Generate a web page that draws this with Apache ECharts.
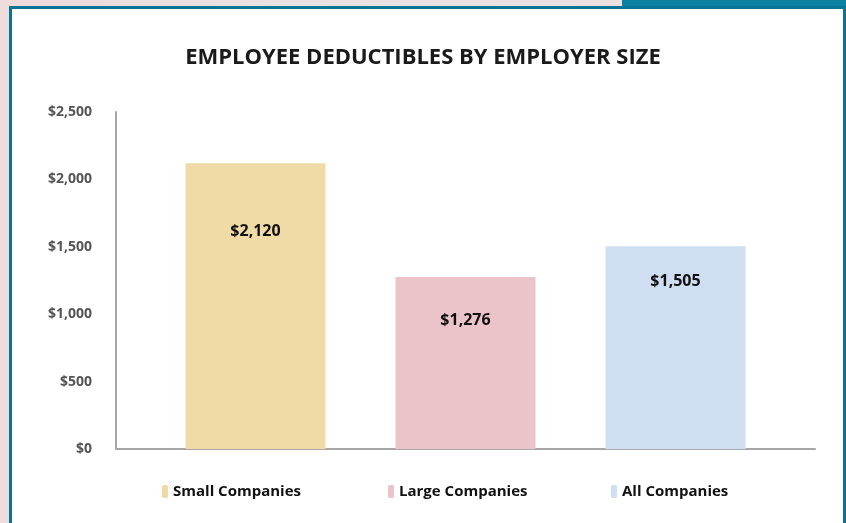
<!DOCTYPE html>
<html>
<head>
<meta charset="utf-8">
<script src="https://cdn.jsdelivr.net/npm/echarts@6/dist/echarts.min.js"></script>
<style>
html,body{margin:0;padding:0;width:846px;height:523px;overflow:hidden;}
body{background:linear-gradient(90deg,#eddcdb 0%,#e9e2e2 40%,#efdede 100%);position:relative;}
#topblock{position:absolute;left:622px;top:0;width:224px;height:8px;background:#0a80a2;}
#frame{position:absolute;left:9px;top:6px;width:831px;height:517px;border-left:3px solid #0b7394;border-top:3px solid #0b7394;border-right:3px solid #0b7394;background:#fff;}
#chart{position:absolute;left:-12px;top:-9px;width:846px;height:523px;}
</style>
</head>
<body>
<div id="topblock"></div>
<div id="frame"><div id="chart"></div></div>
<script>
const title = 'EMPLOYEE DEDUCTIBLES BY EMPLOYER SIZE';
const seriesNames = ['Small Companies', 'Large Companies', 'All Companies'];
const deductibles = [2120, 1276, 1505];
const yTicks = [0, 500, 1000, 1500, 2000, 2500];
const colors = ['#f0dba6', '#ebc4ca', '#cfdff1'];
const labelOffsets = [60, 35, 27];
const legendLefts = [157, 383, 606];

const fmt = v => '$' + v.toLocaleString('en-US');
const font = '"Open Sans", "Noto Sans", sans-serif';

const chart = echarts.init(document.getElementById('chart'));
chart.setOption({
  animation: false,
  title: {
    text: title, left: 'center', top: 42,
    textStyle: {fontFamily: font, fontWeight: 'bold', fontSize: 22, color: '#1a1a1a'}
  },
  legend: seriesNames.map((n, i) => ({
    data: [n], left: legendLefts[i], top: 479, itemWidth: 6, itemHeight: 13, itemGap: 5,
    textStyle: {fontFamily: font, fontWeight: 'bold', fontSize: 15, color: '#111'}
  })),
  grid: {left: 116, right: 31, top: 112, bottom: 74},
  xAxis: {
    type: 'category', data: [''],
    axisLine: {lineStyle: {color: '#a6a6a6', width: 2}},
    axisTick: {show: false}, axisLabel: {show: false}
  },
  yAxis: {
    type: 'value', min: yTicks[0], max: yTicks[yTicks.length - 1], interval: 500,
    axisLine: {show: true, lineStyle: {color: '#a6a6a6', width: 2}},
    axisTick: {show: false}, splitLine: {show: false},
    axisLabel: {formatter: v => fmt(v), fontFamily: font, fontWeight: 'bold', fontSize: 14, color: '#555', margin: 24}
  },
  series: seriesNames.map((n, i) => ({
    name: n, type: 'bar', data: [deductibles[i]], barWidth: 140, barGap: '50%',
    itemStyle: {color: colors[i]},
    label: {show: true, position: 'insideTop', distance: labelOffsets[i], formatter: p => fmt(p.value),
      fontFamily: font, fontWeight: 'bold', fontSize: 16, color: '#111'}
  }))
});
</script>
</body>
</html>
